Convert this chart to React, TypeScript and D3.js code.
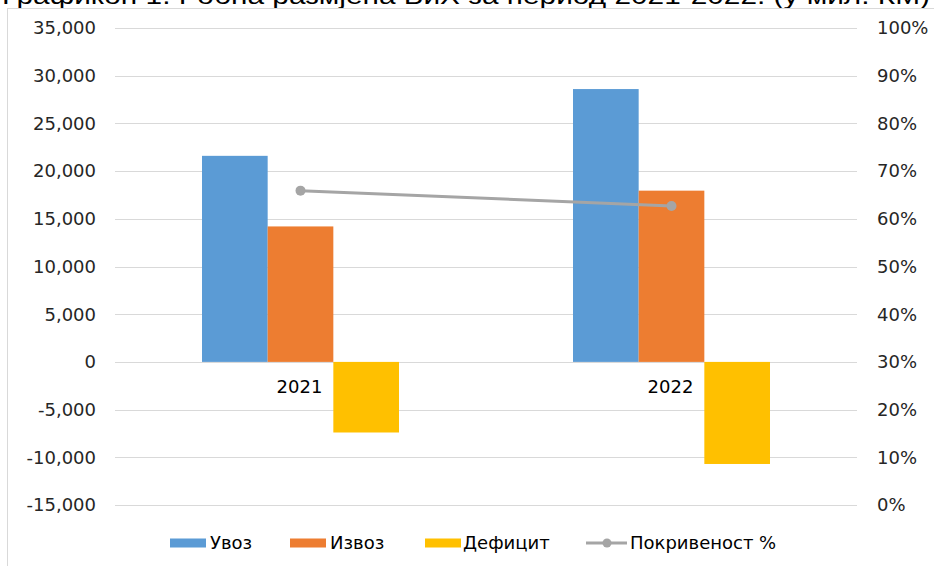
import React from "react";
import * as d3 from "d3";

const years = ["2021", "2022"];
const seriesNames = ["Увоз", "Извоз", "Дефицит"];
const imports = [21600, 28600];
const exports_ = [14200, 17950];
const deficit = [-7400, -10700];
const coverage = [0.659, 0.627];
const leftTicks = [-15000, -10000, -5000, 0, 5000, 10000, 15000, 20000, 25000, 30000, 35000];
const rightTicks = [0, 0.1, 0.2, 0.3, 0.4, 0.5, 0.6, 0.7, 0.8, 0.9, 1];
const lineName = "Покривеност %";
const title = "Графикон 1. Робна размјена БиХ за период 2021-2022. (у мил. КМ)";

const colors = ["#5B9BD5", "#ED7D31", "#FFC000"];
const lineColor = "#A5A5A5";
const FONT = "DejaVu Sans, Verdana, sans-serif";

export default function App() {
  const W = 934, H = 566;
  const plotL = 115, plotR = 857, plotT = 28, plotB = 505;
  const x = d3.scaleBand<string>().domain(years).range([plotL, plotR]).paddingInner(0).paddingOuter(0);
  const groupW = 197;
  const xs = d3.scaleBand<string>().domain(seriesNames).range([-groupW / 2, groupW / 2]);
  const yL = d3.scaleLinear().domain([-15000, 35000]).range([plotB, plotT]);
  const yR = d3.scaleLinear().domain([0, 1]).range([plotB, plotT]);
  const locale = d3.formatLocale({ decimal: ".", thousands: ",", grouping: [3], currency: ["", ""], minus: "-" });
  const fmt = locale.format(",");
  const pct = locale.format(".0%");
  const values = [imports, exports_, deficit];
  const cx = (yr: string) => (x(yr) as number) + x.bandwidth() / 2;
  const line = d3.line<number>().x((_, i) => cx(years[i])).y((d) => yR(d));

  const legendItems = [
    { type: "rect", color: colors[0], label: seriesNames[0], x: 170, tx: 210 },
    { type: "rect", color: colors[1], label: seriesNames[1], x: 290, tx: 330 },
    { type: "rect", color: colors[2], label: seriesNames[2], x: 425, tx: 463 },
    { type: "line", color: lineColor, label: lineName, x: 586, tx: 630 },
  ];
  const ly = 543;

  return (
    <svg width={W} height={H} style={{ position: "absolute", left: 0, top: 0, background: "#fff" }} fontFamily={FONT}>
      <rect x={0} y={0} width={W} height={H} fill="#fff" />
      <text x={2} y={4} fontSize={24} fill="#000" textLength={928} lengthAdjust="spacingAndGlyphs" fontFamily="Liberation Sans, Arial, sans-serif">{title}</text>
      <rect x={7.5} y={8.5} width={W} height={H} fill="#fff" stroke="#d9d9d9" strokeWidth={1} />
      {leftTicks.map((t) => (
        <line key={"g" + t} x1={plotL} x2={plotR} y1={Math.round(yL(t)) + 0.5} y2={Math.round(yL(t)) + 0.5} stroke="#d9d9d9" strokeWidth={1} />
      ))}
      {leftTicks.map((t) => (
        <text key={"l" + t} x={96} y={yL(t)} dy="0.35em" textAnchor="end" fontSize={18} fill="#262626">{fmt(t)}</text>
      ))}
      {rightTicks.map((t) => (
        <text key={"r" + t} x={877} y={yR(t)} dy="0.35em" textAnchor="start" fontSize={18} fill="#262626">{pct(t)}</text>
      ))}
      {years.map((yr, i) => (
        <g key={yr}>
          {seriesNames.map((s, j) => {
            const v = values[j][i];
            const x0 = cx(yr) + (xs(s) as number);
            const y0 = yL(Math.max(0, v));
            const y1 = yL(Math.min(0, v));
            return <rect key={s} x={x0} y={y0} width={xs.bandwidth()} height={y1 - y0} fill={colors[j]} />;
          })}
          <text x={cx(yr) - 1} y={yL(0) + 25} dy="0.35em" textAnchor="middle" fontSize={18} fill="#000">{yr}</text>
        </g>
      ))}
      <path d={line(coverage) || ""} fill="none" stroke={lineColor} strokeWidth={3} strokeLinecap="round" />
      {coverage.map((c, i) => (
        <circle key={i} cx={cx(years[i])} cy={yR(c)} r={5} fill={lineColor} />
      ))}
      {legendItems.map((it) => (
        <g key={it.label}>
          {it.type === "rect" ? (
            <rect x={it.x} y={ly - 4.5} width={36} height={9} fill={it.color} />
          ) : (
            <g>
              <line x1={it.x} x2={it.x + 41} y1={ly} y2={ly} stroke={it.color} strokeWidth={3} />
              <circle cx={it.x + 21} cy={ly} r={4.5} fill={it.color} />
            </g>
          )}
          <text x={it.tx} y={ly} dy="0.35em" fontSize={18} fill="#000">{it.label}</text>
        </g>
      ))}
    </svg>
  );
}
